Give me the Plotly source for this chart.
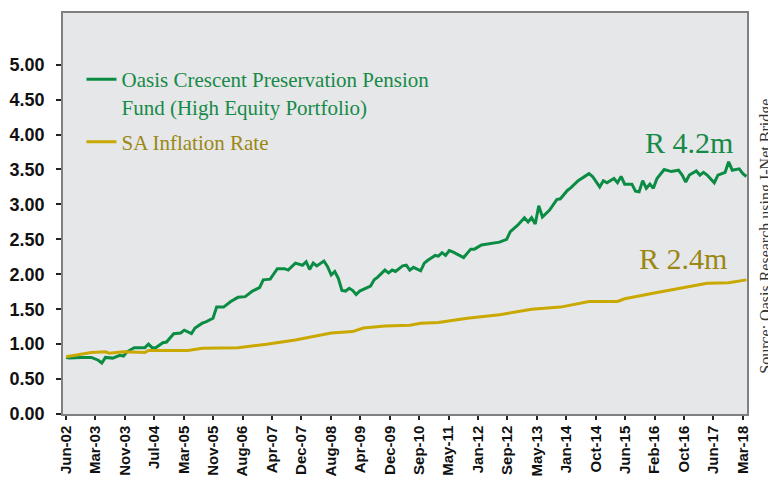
import pandas as pd
import plotly.graph_objects as go

# ---- data ----
fund_month = [0, 1, 4, 7, 9, 10, 11, 13, 15, 16, 17, 18, 19, 22, 23, 24, 25, 27, 28, 30,
              32, 33, 35, 36, 38, 39, 41, 42, 44, 46, 48, 50, 52, 54, 55, 57, 59, 61, 62, 64,
              66, 67, 68, 69, 70, 72, 73, 74, 75, 76, 77, 78, 79, 80, 81, 82, 84, 85, 86, 87,
              89, 90, 91, 92, 94, 95, 96, 97, 99, 100, 101, 103, 104, 105, 106, 107, 108, 110, 111, 113,
              114, 116, 118, 120, 121, 123, 124, 126, 128, 129, 130, 131, 132, 133, 135, 137, 138, 140, 141, 143,
              146, 147, 149, 150, 151, 153, 154, 155, 156, 158, 159, 160, 161, 162, 163, 164, 165, 167, 169, 171,
              172, 173, 174, 176, 177, 178, 179, 181, 182, 184, 185, 186, 188, 189, 190]
fund_value = [0.81, 0.80, 0.81, 0.81, 0.77, 0.73, 0.81, 0.80, 0.84, 0.83, 0.89, 0.92, 0.95, 0.95, 1.00, 0.95, 0.95, 1.02, 1.03, 1.15,
              1.16, 1.20, 1.15, 1.23, 1.30, 1.32, 1.37, 1.53, 1.53, 1.61, 1.67, 1.68, 1.76, 1.81, 1.92, 1.93, 2.08, 2.08, 2.06, 2.16,
              2.13, 2.18, 2.07, 2.16, 2.12, 2.19, 2.11, 1.99, 2.04, 1.94, 1.77, 1.76, 1.80, 1.77, 1.71, 1.76, 1.81, 1.83, 1.92, 1.96,
              2.06, 2.02, 2.06, 2.04, 2.12, 2.13, 2.06, 2.10, 2.05, 2.16, 2.20, 2.27, 2.26, 2.31, 2.27, 2.34, 2.32, 2.27, 2.24, 2.36,
              2.36, 2.42, 2.44, 2.46, 2.46, 2.50, 2.61, 2.70, 2.81, 2.75, 2.81, 2.72, 2.98, 2.82, 2.92, 3.07, 3.08, 3.20, 3.24, 3.34,
              3.44, 3.40, 3.25, 3.34, 3.31, 3.37, 3.31, 3.40, 3.29, 3.29, 3.19, 3.18, 3.34, 3.23, 3.29, 3.23, 3.37, 3.50, 3.47, 3.49,
              3.42, 3.32, 3.42, 3.48, 3.42, 3.46, 3.42, 3.31, 3.42, 3.46, 3.61, 3.49, 3.51, 3.44, 3.40]

infl_month = [0, 4, 7, 11, 12, 16, 22, 23, 34, 38, 48, 56, 64, 74, 80, 83, 89, 96, 99, 104,
              112, 121, 130, 138, 143, 146, 154, 156, 165, 172, 179, 185, 190]
infl_value = [0.82, 0.85, 0.88, 0.89, 0.87, 0.89, 0.88, 0.91, 0.91, 0.94, 0.95, 1.00, 1.06, 1.16, 1.18, 1.23, 1.26, 1.27, 1.30, 1.31,
              1.37, 1.42, 1.50, 1.53, 1.58, 1.61, 1.61, 1.65, 1.74, 1.80, 1.87, 1.88, 1.92]

tick_labels = ["Jun-02", "Mar-03", "Nov-03", "Jul-04", "Mar-05", "Nov-05", "Aug-06", "Apr-07",
               "Dec-07", "Aug-08", "Apr-09", "Dec-09", "Sep-10", "May-11", "Jan-12", "Sep-12",
               "May-13", "Jan-14", "Oct-14", "Jun-15", "Feb-16", "Oct-16", "Jun-17", "Mar-18"]
y_ticks = [0.0, 0.5, 1.0, 1.5, 2.0, 2.5, 3.0, 3.5, 4.0, 4.5, 5.0]

fund_name = "Oasis Crescent Preservation Pension<br>Fund (High Equity Portfolio)"
infl_name = "SA Inflation Rate"
fund_end_label = "R 4.2m"
infl_end_label = "R 2.4m"
source_text = "Source: Oasis Research using I-Net Bridge"

# ---- conversion of month offsets to dates ----
start = pd.Timestamp("2002-06-30")


def to_date(m):
    return start + pd.offsets.MonthEnd(m)


fund_dates = [to_date(m) for m in fund_month]
infl_dates = [to_date(m) for m in infl_month]
end_tick = to_date(189)
n = len(tick_labels) - 1
tick_dates = [start + (end_tick - start) * k / n for k in range(n + 1)]

GREEN = "#0b8c45"
GOLD = "#c9a800"
GREEN_TXT = "#168a48"
GOLD_TXT = "#9a8714"

fig = go.Figure()
fig.add_trace(go.Scatter(
    x=fund_dates, y=fund_value, mode="lines", name=f'<span style="color:{GREEN_TXT}">{fund_name}</span>',
    line=dict(color=GREEN, width=3), legendgroup="a"))
fig.add_trace(go.Scatter(
    x=infl_dates, y=infl_value, mode="lines", name=f'<span style="color:{GOLD_TXT}">{infl_name}</span>',
    line=dict(color=GOLD, width=3), legendgroup="b"))

y_font = dict(family="Liberation Sans, Arial, sans-serif", size=18, color="#111111", weight="bold")
x_font = dict(family="Liberation Sans, Arial, sans-serif", size=15, color="#111111", weight="bold")

# the page body adds an 8px offset, so the figure is 8px smaller and margins shifted
fig.update_layout(
    width=768, height=469,
    margin=dict(l=55, r=29, t=5, b=63),
    paper_bgcolor="white",
    plot_bgcolor="#e6e7e8",
    showlegend=True,
    legend=dict(
        x=0.027, y=0.885, xanchor="left", yanchor="top",
        bgcolor="rgba(0,0,0,0)",
        font=dict(family="Liberation Serif, Times New Roman, serif", size=21),
        valign="top", tracegroupgap=5, itemwidth=30,
    ),
    xaxis=dict(
        type="date",
        range=[start - pd.Timedelta(days=26), end_tick + pd.Timedelta(days=35)],
        tickmode="array", tickvals=tick_dates, ticktext=tick_labels,
        tickangle=-90, tickfont=x_font,
        ticks="outside", ticklen=4, tickwidth=1.5, tickcolor="#222222",
        showline=True, linecolor="#808080", linewidth=1.5, mirror=True,
        showgrid=False, zeroline=False, automargin=False,
    ),
    yaxis=dict(
        range=[0, 5.74],
        tickmode="array", tickvals=y_ticks, tickformat=".2f",
        tickfont=y_font,
        ticks="outside", ticklen=5, tickwidth=1.5, tickcolor="#222222",
        ticklabelstandoff=8,
        showline=True, linecolor="#808080", linewidth=1.5, mirror=True,
        showgrid=False, zeroline=False, automargin=False,
    ),
    annotations=[
        dict(text=fund_end_label, xref="paper", yref="paper", x=0.915, y=0.678,
             xanchor="center", yanchor="middle",
             showarrow=False, font=dict(family="Liberation Serif, serif", size=30, color=GREEN_TXT)),
        dict(text=infl_end_label, xref="paper", yref="paper", x=0.906, y=0.389,
             xanchor="center", yanchor="middle",
             showarrow=False, font=dict(family="Liberation Serif, serif", size=30, color=GOLD_TXT)),
        dict(text=source_text, xref="paper", yref="paper", x=1.0275, y=0.444, textangle=-90,
             xanchor="center", yanchor="middle",
             showarrow=False, font=dict(family="Liberation Serif, serif", size=16, color="#333333")),
    ],
)

fig.write_html("out.html")
